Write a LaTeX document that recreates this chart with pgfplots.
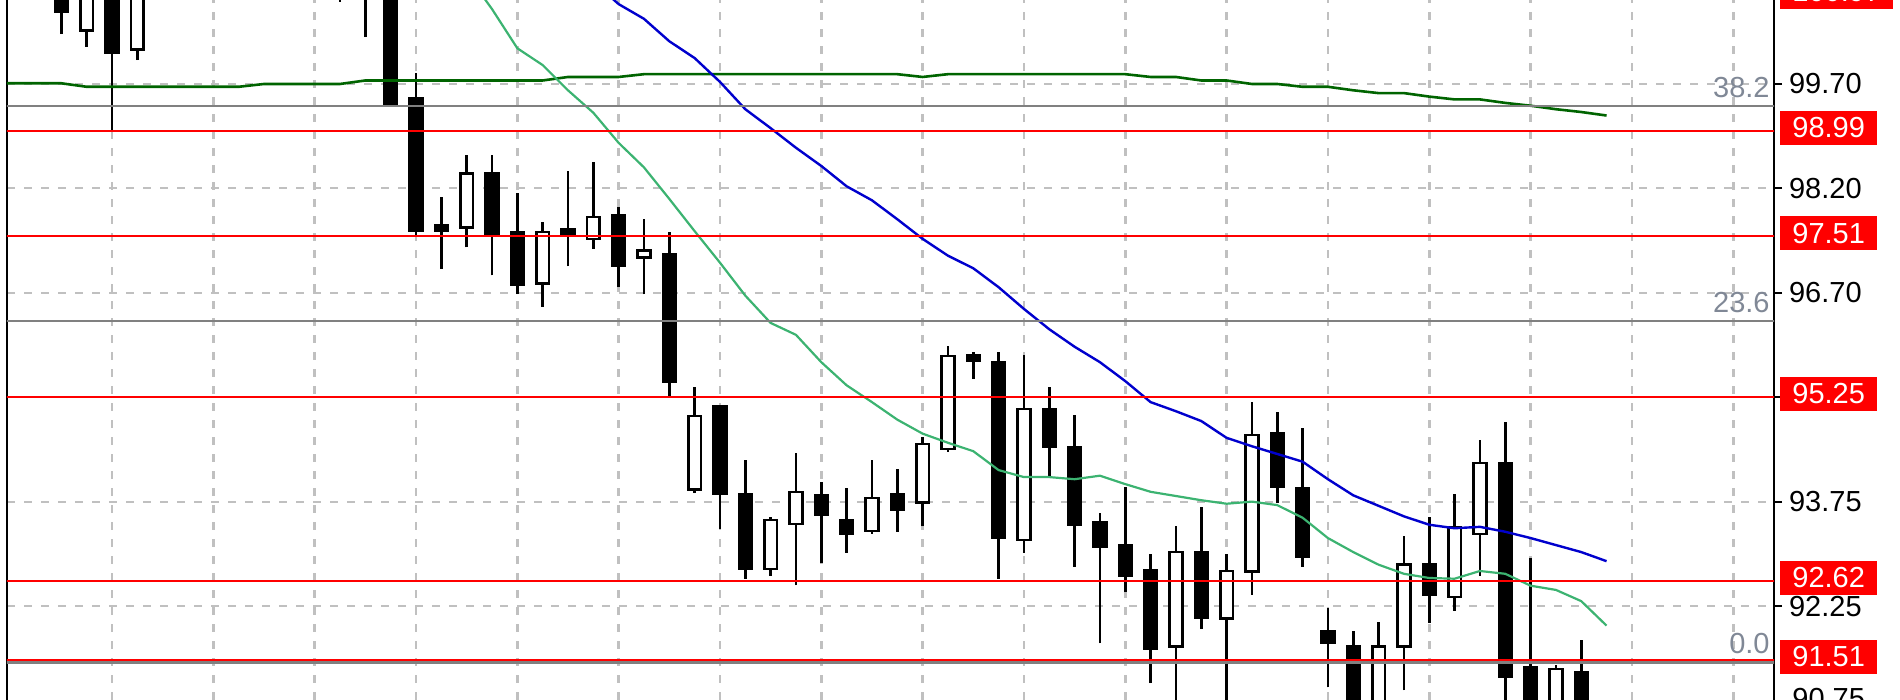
\documentclass[border=0pt]{standalone}
\usepackage{fontspec}
\setmainfont{Liberation Sans}
\usepackage{pgfplots}
\usepackage{pgfplotstable}
\pgfplotsset{compat=1.18}

\definecolor{gridgray}{RGB}{192,192,192}
\definecolor{fibgray}{RGB}{128,128,128}
\definecolor{lvlred}{RGB}{255,0,0}
\definecolor{maslow}{RGB}{0,100,0}
\definecolor{mafast}{RGB}{60,179,113}
\definecolor{mamid}{RGB}{0,0,205}
\definecolor{fibtext}{RGB}{128,136,150}

% bars: index, open, high, low, close
\pgfplotstableread{
i o h l c
-2 101.10 101.25 100.41 100.73
-1 100.46 101.15 100.23 101.00
0 101.15 101.30 99.04 100.14
1 100.19 101.10 100.04 101.00
9 101.50 101.70 100.87 101.20
10 101.40 101.60 100.37 101.00
11 101.00 101.10 99.42 99.42
12 99.50 99.86 97.55 97.60
13 97.69 98.09 97.06 97.60
14 97.65 98.69 97.37 98.42
15 98.42 98.69 96.97 97.56
16 97.59 98.14 96.70 96.83
17 96.85 97.73 96.52 97.59
18 97.63 98.46 97.10 97.56
19 97.49 98.59 97.35 97.80
20 97.82 97.95 96.80 97.10
21 97.22 97.77 96.70 97.32
22 97.27 97.59 95.25 95.45
23 93.91 95.38 93.86 94.96
24 95.10 95.10 93.35 93.86
25 93.85 94.33 92.64 92.78
26 92.78 93.52 92.68 93.48
27 93.42 94.43 92.55 93.88
28 93.83 94.02 92.86 93.55
29 93.48 93.93 93.01 93.28
30 93.32 94.33 93.28 93.79
31 93.85 94.21 93.31 93.63
32 93.73 94.66 93.39 94.56
33 94.49 95.96 94.45 95.82
34 95.83 95.88 95.49 95.75
35 95.73 95.88 92.64 93.22
36 93.19 95.83 93.01 95.06
37 95.06 95.38 94.11 94.53
38 94.52 94.98 92.81 93.41
39 93.44 93.58 91.72 93.09
40 93.12 93.95 92.45 92.68
41 92.76 92.99 91.15 91.64
42 91.67 93.39 90.60 93.02
43 93.02 93.66 91.92 92.09
44 92.07 92.99 90.70 92.75
45 92.74 95.16 92.41 94.69
46 94.71 95.02 93.72 93.95
47 93.93 94.79 92.81 92.95
48 91.89 92.22 91.09 91.72
49 91.67 91.89 90.40 90.60
50 90.70 92.02 90.50 91.67
51 91.67 93.25 91.05 92.84
52 92.85 93.52 92.01 92.41
53 92.38 93.85 92.18 93.38
54 93.28 94.62 92.68 94.29
55 94.29 94.88 90.60 91.24
56 91.37 92.94 90.50 90.70
57 90.80 91.41 90.60 91.35
58 91.31 91.77 90.50 90.70
}\candles

\pgfplotstableread{
i v
-5 99.71
-2 99.71
-1 99.66
5 99.66
6 99.70
9 99.70
10 99.75
17 99.75
18 99.80
20 99.80
21 99.84
31 99.84
32 99.80
33 99.84
40 99.84
41 99.80
42 99.80
43 99.75
44 99.75
45 99.70
46 99.70
47 99.66
48 99.66
49 99.61
50 99.57
51 99.57
52 99.52
53 99.48
54 99.48
55 99.43
56 99.39
57 99.34
58 99.30
59 99.25
}\maslowtab

\pgfplotstableread{
i v
14 101.27
15 100.77
16 100.21
17 99.97
18 99.61
19 99.29
20 98.86
21 98.51
22 98.06
23 97.60
24 97.15
25 96.68
26 96.29
27 96.12
28 95.73
29 95.40
30 95.16
31 94.91
32 94.71
33 94.58
34 94.46
35 94.19
36 94.09
37 94.09
38 94.06
39 94.11
40 93.99
41 93.88
42 93.82
43 93.76
44 93.71
45 93.74
46 93.69
47 93.51
48 93.22
49 93.02
50 92.84
51 92.71
52 92.65
53 92.64
54 92.75
55 92.71
56 92.54
57 92.48
58 92.32
59 91.97
}\mafasttab

\pgfplotstableread{
i v
18 101.47
19 101.16
20 100.84
21 100.63
22 100.31
23 100.07
24 99.73
25 99.34
26 99.07
27 98.79
28 98.53
29 98.24
30 98.04
31 97.77
32 97.49
33 97.25
34 97.07
35 96.80
36 96.49
37 96.20
38 95.95
39 95.73
40 95.46
41 95.16
42 95.03
43 94.89
44 94.65
45 94.53
46 94.42
47 94.31
48 94.06
49 93.83
50 93.68
51 93.53
52 93.41
53 93.36
54 93.38
55 93.31
56 93.22
57 93.12
58 93.02
59 92.89
}\mamidtab

\pgfplotsset{
  mtbase/.style={scale only axis, width=883.5pt, height=350pt,
    xmin=-4.145, xmax=65.61, ymin=90.909, ymax=100.899},
  every tick label/.append style={font=\fontsize{14.5}{17}\selectfont},
}
\tikzset{
  lvlbox/.style={fill=lvlred, text=white, inner xsep=6pt, inner ysep=0pt,
    minimum height=17pt, anchor=west, xshift=3pt, yshift=1.5pt},
  fiblbl/.style={text=fibtext, inner sep=0pt, anchor=south east, xshift=-2pt, yshift=4pt},
}

\begin{document}
\begin{tikzpicture}[font=\fontsize{14.5}{17}\selectfont]
% grid + wicks
\begin{axis}[mtbase, axis line style={draw=none}, tick style={draw=none},
  xtick={0,4,...,64}, ytick={99.70,98.215,96.72,95.233,93.735,92.25},
  xticklabels={}, yticklabels={},
  grid=major, major grid style={gridgray, line width=1.3pt, dash pattern=on 4pt off 4.5pt}]
\addplot[only marks, mark=none, mark size=0pt, mark options={draw=none, fill=none},
  error bars/.cd, y dir=plus, y explicit, error mark=none,
  error bar style={black, line width=1.3pt}]
  table[x=i, y=l, y error expr=\thisrow{h}-\thisrow{l}] {\candles};
\end{axis}
% bodies
\begin{axis}[mtbase, hide axis, ybar stacked, bar width=0.5]
\addplot[draw=none, fill=none] table[x=i, y expr={min(\thisrow{o},\thisrow{c})}] {\candles};
\addplot[fill=black, draw=black, line width=1.3pt] table[x=i, y expr={max(\thisrow{o}-\thisrow{c},0)}] {\candles};
\addplot[fill=white, draw=black, line width=1.3pt] table[x=i, y expr={max(\thisrow{c}-\thisrow{o},0)}] {\candles};
\end{axis}
% averages, levels, price scale
\begin{axis}[mtbase, clip mode=individual, separate axis lines,
  x axis line style={draw=none}, y axis line style={black, line width=1.3pt},
  xtick=\empty, ytick={99.70,98.215,96.72,95.233,93.735,92.25},
  yticklabels={99.70,98.20,96.70,,93.75,92.25},
  ytick pos=right, yticklabel pos=right, tick align=outside,
  major tick length=4pt, ytick style={black, line width=1.3pt}]
\addplot[maslow, line width=1.3pt] table[x=i, y=v] {\maslowtab};
\addplot[mafast, line width=1.1pt] table[x=i, y=v] {\mafasttab};
\addplot[mamid, line width=1.2pt] table[x=i, y=v] {\mamidtab};
% fibo levels
\addplot[fibgray, line width=1.3pt] coordinates {(-5,99.386) (66,99.386)};
\addplot[fibgray, line width=1.3pt] coordinates {(-5,96.318) (66,96.318)};
\addplot[fibgray, line width=1.3pt] coordinates {(-5,91.445) (66,91.445)};
% horizontal levels
\addplot[lvlred, line width=1.3pt] coordinates {(-5,100.97) (66,100.97)};
\addplot[lvlred, line width=1.3pt] coordinates {(-5,99.03) (66,99.03)};
\addplot[lvlred, line width=1.3pt] coordinates {(-5,97.53) (66,97.53)};
\addplot[lvlred, line width=1.3pt] coordinates {(-5,95.233) (66,95.233)};
\addplot[lvlred, line width=1.3pt] coordinates {(-5,92.607) (66,92.607)};
\addplot[lvlred, line width=1.3pt] coordinates {(-5,91.48) (66,91.48)};
\node[fiblbl] at (axis cs:65.61,99.386) {38.2};
\node[fiblbl] at (axis cs:65.61,96.318) {23.6};
\node[fiblbl] at (axis cs:65.61,91.445) {0.0};
\node[lvlbox] at (axis cs:65.61,100.97) {100.97};
\node[lvlbox] at (axis cs:65.61,99.03) {98.99};
\node[lvlbox] at (axis cs:65.61,97.53) {97.51};
\node[lvlbox] at (axis cs:65.61,95.233) {95.25};
\node[lvlbox] at (axis cs:65.61,92.607) {92.62};
\node[lvlbox] at (axis cs:65.61,91.48) {91.51};
\node[inner sep=0pt, anchor=west, xshift=9pt] at (axis cs:65.61,90.937) {90.75};
\end{axis}
\pgfresetboundingbox
\path[use as bounding box] (-3.5pt,0pt) rectangle (946.5pt,350pt);
\end{tikzpicture}
\end{document}
